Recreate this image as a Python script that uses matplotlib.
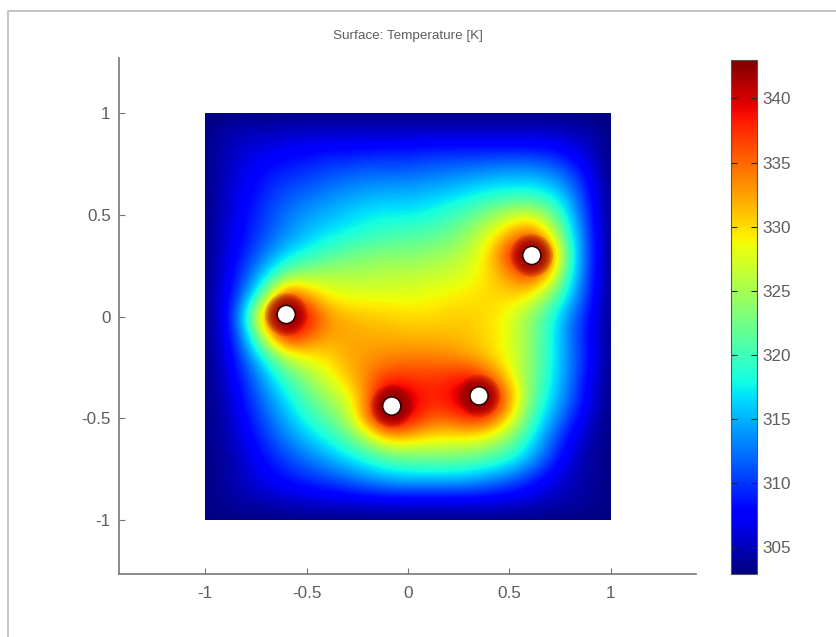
import numpy as np
import matplotlib
matplotlib.use('Agg')
import matplotlib.pyplot as plt
from matplotlib.patches import Circle, Rectangle
from matplotlib.lines import Line2D

plt.rcParams['font.family'] = ['Liberation Sans', 'DejaVu Sans']

# temperature, x = -1..1 and y = 1..-1 in steps of 0.1
temp_rows = [
    [303]*21,
    [303,304.5,305,305,305.5,305.5,305.5,305.5,305.5,305.5,305.5,305.5,305.5,305.5,305.5,305.5,305.5,305.5,305,304.5,303],
    [303,305,306,307,307.5,308,308.5,308.5,309,309,309,309.5,309.5,309.5,309.5,309.5,309.5,309,307.5,305.5,303],
    [303,305,307,308.5,309.5,310,311,311.5,312,312,312,312.5,313,313.5,314,314.5,314.5,313.5,311,307,303],
    [303,305.5,307.5,309.5,311,312,313,314,314.5,315,315,315.5,316,317,318,318.5,318.5,317.5,314,308,303],
    [303,305.5,308,310.5,312.5,314,315,316,317,317.5,317.2,318,319.5,321,323.5,326,327,323,316,309,303],
    [303,306,308.5,311,313.5,315.5,317,318,319,320,320.5,321,322,324.5,328,332,336,329,318,309.5,303],
    [303,306,309.5,313,316.5,318.5,320.5,322,323,323.5,323.5,324,325,326.5,330,338,343,337,319,310,303],
    [303,306.5,311,316.5,322.5,325,325.5,325.5,325.5,326,326,326.5,327,328,330,333,337,331,318,309.5,303],
    [303,307,313,323,338.5,332.5,329,328,328,328,328,328.5,329,329.5,330,330.5,329,323.5,316,309,303],
    [303,307,317,336,343,340,333.5,331.5,331,330.5,330,330,330.5,330.5,330,328,324,319,313,308,303],
    [303,306.5,314.5,328,339.5,335.5,332.5,332.5,332,332,331.5,331.5,331.5,331,330,328,324,318.5,312.5,307.5,303],
    [303,306,312,318.5,326,329,330,332,333,333.5,334,334,333.5,332.5,330.5,328,324,318.5,313,308,303],
    [303,305.5,310,315,320,324,327.5,331,334,337,337,337,337.5,338.5,336,329.5,323.5,318,312.5,307,303],
    [303,305,309,313,317,321,324.5,327.5,334,343,341,338,339,343,342,334,323,317,312,306.5,303],
    [303,304.5,308,311.5,315,318.5,321.5,325,335,343,340,336,335.5,338,337,330,321,315,310,305.5,303],
    [303,304.5,307,310,313,315.5,318,321,325.5,331,331,329.5,329,329,327,323.5,318,312.5,307.5,304.5,303],
    [303,304,306,308.5,310.5,312.5,314.5,316.5,318.5,320.5,321.5,322,322,321.5,320.5,318.5,315,310.5,306,304,303],
    [303,304,305.5,307,308.5,309.5,310.5,312,313.5,315,315.5,315.5,315.5,315,313.5,312,309.5,307,305,304,303],
    [303,304,304.5,305,305.5,306,306.5,306.5,307,307,307,307,307,307,307,306.5,306,305,304.5,304,303],
    [303]*21,
]
hole_x = [-0.60, -0.08, 0.35, 0.61]
hole_y = [0.01, -0.44, -0.39, 0.30]
hole_r = 0.045
glow_r = [0.105, 0.095, 0.085, 0.075, 0.065]

ticks_x = [-1, -0.5, 0, 0.5, 1]
ticks_y = [-1, -0.5, 0, 0.5, 1]
ticks_cb = [305, 310, 315, 320, 325, 330, 335, 340]
t_min, t_max = 302.9, 343.0

W, H = 836, 637
gray = '#5e5e5e'


def px_axes(left, top, right, bottom):
    return [left / W, 1 - bottom / H, (right - left) / W, (bottom - top) / H]


fig = plt.figure(figsize=(W / 100, H / 100), dpi=100)

# grey border, only top and left
fig.add_artist(Line2D([8 / W, 8 / W, 1], [0, 1 - 11 / H, 1 - 11 / H], transform=fig.transFigure,
                      color='#c4c4c4', linewidth=1.4))

ax = fig.add_axes(px_axes(119, 58, 696, 574))
temp = np.array(temp_rows, dtype=float)
im = ax.imshow(temp, cmap='jet', vmin=t_min, vmax=t_max, interpolation='bicubic',
               extent=(-1.05, 1.05, -1.05, 1.05), origin='upper', aspect='auto')
im.set_clip_path(Rectangle((-1, -1), 2, 2, transform=ax.transData))

for cx, cy in zip(hole_x, hole_y):
    # dark glow of the hole wall
    for r in glow_r:
        ax.add_patch(Circle((cx, cy), r, facecolor='#8c0000', edgecolor='none', alpha=0.22, zorder=2))
    ax.add_patch(Circle((cx, cy), hole_r, facecolor='white', edgecolor='#300000', linewidth=1.2, zorder=3))

ax.set_xlim(-1.424, 1.419)
ax.set_ylim(-1.265, 1.27)
ax.set_xticks(ticks_x)
ax.set_xticklabels(['-1', '-0.5', '0', '0.5', '1'])
ax.set_yticks(ticks_y)
ax.set_yticklabels(['-1', '-0.5', '0', '0.5', '1'])
ax.spines['top'].set_visible(False)
ax.spines['right'].set_visible(False)
ax.spines['left'].set_color('#777777')
ax.spines['bottom'].set_color('#777777')
ax.spines['left'].set_linewidth(1.2)
ax.spines['bottom'].set_linewidth(1.2)
ax.tick_params(direction='in', length=4, width=0.8, color='#777777', labelcolor=gray, labelsize=12.3, pad=6)
ax.tick_params(axis='x', pad=9)
fig.text(408 / W, 1 - 36 / H, 'Surface: Temperature [K]', ha='center', va='center', color=gray, fontsize=9.7)

cax = fig.add_axes(px_axes(731, 60, 757, 574))
cb = fig.colorbar(im, cax=cax)
cb.set_ticks(ticks_cb)
cb.ax.tick_params(direction='in', length=4, width=0.8, left=True, right=True, color='#222222',
                  labelcolor=gray, labelsize=12.3, pad=4)
cb.outline.set_edgecolor('#555555')
cb.outline.set_linewidth(0.8)

fig.savefig('out.png', dpi=100)
